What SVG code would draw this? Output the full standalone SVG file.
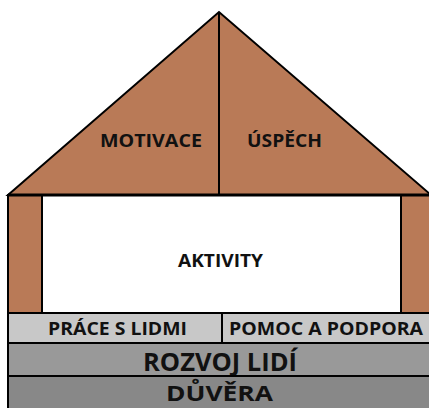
<svg xmlns="http://www.w3.org/2000/svg" width="429" height="408" viewBox="0 0 429 408">
<style>
.brown{fill:#b97a57;stroke:#000;stroke-width:2}
.wall{fill:#fff;stroke:#000;stroke-width:2}
.r1{fill:#c8c8c8;stroke:#000;stroke-width:2}
.r2{fill:#999;stroke:#000;stroke-width:2}
.r3{fill:#888;stroke:#000;stroke-width:2}
text{font-family:"Open Sans","Liberation Sans",Arial,sans-serif;font-weight:bold;fill:#111;text-anchor:middle}
.s18{font-size:18.5px}
.s16{font-size:17px}
.s24{font-size:24.5px}
.s23{font-size:22px}
</style>
<rect width="429" height="408" fill="#fff"/>
<g id="roof">
<polygon class="brown" points="8,195 219,12 431,195"/>
<line x1="219" y1="12" x2="219" y2="195" stroke="#000" stroke-width="2"/>
<text class="s18" x="151" y="147" textLength="102" lengthAdjust="spacingAndGlyphs">MOTIVACE</text>
<text class="s18" x="284.5" y="147" textLength="75" lengthAdjust="spacingAndGlyphs">ÚSPĚCH</text>
</g>
<g id="pillar-left"><rect class="brown" x="8" y="195" width="34" height="118"/></g>
<g id="pillar-right"><rect class="brown" x="401" y="195" width="30" height="118"/></g>
<g id="aktivity">
<rect class="wall" x="42" y="195" width="359" height="118"/>
<text class="s18" x="220.5" y="267" textLength="85" lengthAdjust="spacingAndGlyphs">AKTIVITY</text>
</g>
<line x1="8" y1="195" x2="431" y2="195" stroke="#000" stroke-width="3"/>
<g id="prace">
<rect class="r1" x="8" y="313" width="214" height="30"/>
<text class="s16" x="117.5" y="335" textLength="139" lengthAdjust="spacingAndGlyphs">PRÁCE S LIDMI</text>
</g>
<g id="pomoc">
<rect class="r1" x="222" y="313" width="209" height="30"/>
<text class="s16" x="326" y="335" textLength="194" lengthAdjust="spacingAndGlyphs">POMOC A PODPORA</text>
</g>
<g id="rozvoj">
<rect class="r2" x="8" y="343" width="423" height="33"/>
<text class="s24" x="220" y="371" textLength="154" lengthAdjust="spacingAndGlyphs">ROZVOJ LIDÍ</text>
</g>
<g id="duvera">
<rect class="r3" x="8" y="376" width="423" height="34"/>
<text class="s23" x="219.5" y="401" textLength="107" lengthAdjust="spacingAndGlyphs">DŮVĚRA</text>
</g>
</svg>
